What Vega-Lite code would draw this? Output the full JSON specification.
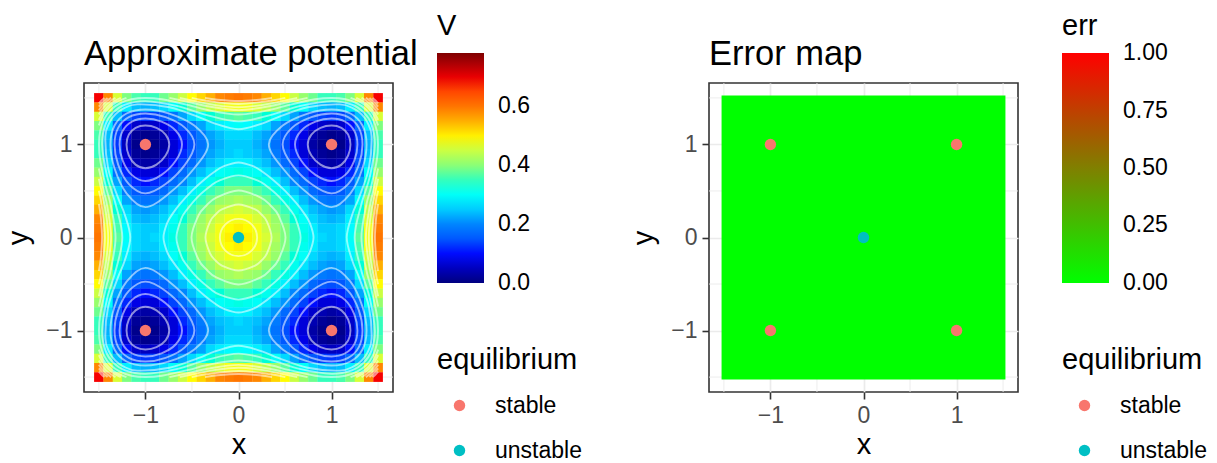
{
"$schema":"https://vega.github.io/schema/vega-lite/v6.json",
"background":"white",
"padding":{"left":3,"top":11,"right":4,"bottom":0},
"config":{
"font":"Liberation Sans",
"view":{"stroke":"#333333","strokeWidth":1.6},
"axis":{"domain":false,"grid":true,"gridColor":"#EBEBEB","gridWidth":1.7,"tickColor":"#333333","tickWidth":1.6,"tickSize":7,"labelColor":"#4D4D4D","labelFontSize":23,"labelPadding":5,"titleFontSize":29,"titleFontWeight":"normal","titleColor":"#000000"},
"axisX":{"titlePadding":3},
"axisY":{"titlePadding":12},
"legend":{"titleFontSize":29,"titleFontWeight":"normal","titleColor":"#000000","labelFontSize":23,"labelColor":"#000000","gradientLength":230,"gradientThickness":47,"gradientStrokeWidth":0,"offset":44,"layout":{"right":{"anchor":"middle","direction":"vertical","margin":51}}},
"title":{"fontSize":34.5,"fontWeight":"normal","anchor":"start","frame":"group","color":"#000000","offset":-60}
},
"datasets":{
"minor":[{"x":-1.5,"y":-1.5},{"x":-0.5,"y":-0.5},{"x":0.5,"y":0.5},{"x":1.5,"y":1.5}],
"eq":[{"x":-1,"y":1,"equilibrium":"stable"},{"x":1,"y":1,"equilibrium":"stable"},{"x":-1,"y":-1,"equilibrium":"stable"},{"x":1,"y":-1,"equilibrium":"stable"},{"x":0,"y":0,"equilibrium":"unstable"}],
"err":[{"x1":-1.525,"x2":1.525,"y1":-1.525,"y2":1.525,"err":0}],
"heat":[
{"x":-1.5,"y":1.5,"V":0.69},{"x":-1.4,"y":1.5,"V":0.58},{"x":-1.3,"y":1.5,"V":0.46},{"x":-1.2,"y":1.5,"V":0.39},{"x":-1.1,"y":1.5,"V":0.36},{"x":-1,"y":1.5,"V":0.35},{"x":-0.9,"y":1.5,"V":0.35},{"x":-0.8,"y":1.5,"V":0.38},{"x":-0.7,"y":1.5,"V":0.41},{"x":-0.6,"y":1.5,"V":0.45},{"x":-0.5,"y":1.5,"V":0.49},{"x":-0.4,"y":1.5,"V":0.52},{"x":-0.3,"y":1.5,"V":0.55},{"x":-0.2,"y":1.5,"V":0.58},{"x":-0.1,"y":1.5,"V":0.59},{"x":0,"y":1.5,"V":0.6},{"x":0.1,"y":1.5,"V":0.59},{"x":0.2,"y":1.5,"V":0.58},{"x":0.3,"y":1.5,"V":0.55},{"x":0.4,"y":1.5,"V":0.52},{"x":0.5,"y":1.5,"V":0.49},{"x":0.6,"y":1.5,"V":0.45},{"x":0.7,"y":1.5,"V":0.41},{"x":0.8,"y":1.5,"V":0.38},{"x":0.9,"y":1.5,"V":0.35},{"x":1,"y":1.5,"V":0.35},{"x":1.1,"y":1.5,"V":0.36},{"x":1.2,"y":1.5,"V":0.39},{"x":1.3,"y":1.5,"V":0.46},{"x":1.4,"y":1.5,"V":0.58},{"x":1.5,"y":1.5,"V":0.69},
{"x":-1.5,"y":1.4,"V":0.58},{"x":-1.4,"y":1.4,"V":0.46},{"x":-1.3,"y":1.4,"V":0.35},{"x":-1.2,"y":1.4,"V":0.28},{"x":-1.1,"y":1.4,"V":0.24},{"x":-1,"y":1.4,"V":0.23},{"x":-0.9,"y":1.4,"V":0.24},{"x":-0.8,"y":1.4,"V":0.26},{"x":-0.7,"y":1.4,"V":0.3},{"x":-0.6,"y":1.4,"V":0.33},{"x":-0.5,"y":1.4,"V":0.37},{"x":-0.4,"y":1.4,"V":0.41},{"x":-0.3,"y":1.4,"V":0.44},{"x":-0.2,"y":1.4,"V":0.46},{"x":-0.1,"y":1.4,"V":0.48},{"x":0,"y":1.4,"V":0.48},{"x":0.1,"y":1.4,"V":0.48},{"x":0.2,"y":1.4,"V":0.46},{"x":0.3,"y":1.4,"V":0.44},{"x":0.4,"y":1.4,"V":0.41},{"x":0.5,"y":1.4,"V":0.37},{"x":0.6,"y":1.4,"V":0.33},{"x":0.7,"y":1.4,"V":0.3},{"x":0.8,"y":1.4,"V":0.26},{"x":0.9,"y":1.4,"V":0.24},{"x":1,"y":1.4,"V":0.23},{"x":1.1,"y":1.4,"V":0.24},{"x":1.2,"y":1.4,"V":0.28},{"x":1.3,"y":1.4,"V":0.35},{"x":1.4,"y":1.4,"V":0.46},{"x":1.5,"y":1.4,"V":0.58},
{"x":-1.5,"y":1.3,"V":0.46},{"x":-1.4,"y":1.3,"V":0.35},{"x":-1.3,"y":1.3,"V":0.24},{"x":-1.2,"y":1.3,"V":0.17},{"x":-1.1,"y":1.3,"V":0.13},{"x":-1,"y":1.3,"V":0.12},{"x":-0.9,"y":1.3,"V":0.13},{"x":-0.8,"y":1.3,"V":0.15},{"x":-0.7,"y":1.3,"V":0.18},{"x":-0.6,"y":1.3,"V":0.22},{"x":-0.5,"y":1.3,"V":0.26},{"x":-0.4,"y":1.3,"V":0.3},{"x":-0.3,"y":1.3,"V":0.33},{"x":-0.2,"y":1.3,"V":0.35},{"x":-0.1,"y":1.3,"V":0.36},{"x":0,"y":1.3,"V":0.37},{"x":0.1,"y":1.3,"V":0.36},{"x":0.2,"y":1.3,"V":0.35},{"x":0.3,"y":1.3,"V":0.33},{"x":0.4,"y":1.3,"V":0.3},{"x":0.5,"y":1.3,"V":0.26},{"x":0.6,"y":1.3,"V":0.22},{"x":0.7,"y":1.3,"V":0.18},{"x":0.8,"y":1.3,"V":0.15},{"x":0.9,"y":1.3,"V":0.13},{"x":1,"y":1.3,"V":0.12},{"x":1.1,"y":1.3,"V":0.13},{"x":1.2,"y":1.3,"V":0.17},{"x":1.3,"y":1.3,"V":0.24},{"x":1.4,"y":1.3,"V":0.35},{"x":1.5,"y":1.3,"V":0.46},
{"x":-1.5,"y":1.2,"V":0.39},{"x":-1.4,"y":1.2,"V":0.28},{"x":-1.3,"y":1.2,"V":0.17},{"x":-1.2,"y":1.2,"V":0.1},{"x":-1.1,"y":1.2,"V":0.06},{"x":-1,"y":1.2,"V":0.05},{"x":-0.9,"y":1.2,"V":0.06},{"x":-0.8,"y":1.2,"V":0.08},{"x":-0.7,"y":1.2,"V":0.11},{"x":-0.6,"y":1.2,"V":0.15},{"x":-0.5,"y":1.2,"V":0.19},{"x":-0.4,"y":1.2,"V":0.22},{"x":-0.3,"y":1.2,"V":0.26},{"x":-0.2,"y":1.2,"V":0.28},{"x":-0.1,"y":1.2,"V":0.29},{"x":0,"y":1.2,"V":0.3},{"x":0.1,"y":1.2,"V":0.29},{"x":0.2,"y":1.2,"V":0.28},{"x":0.3,"y":1.2,"V":0.26},{"x":0.4,"y":1.2,"V":0.22},{"x":0.5,"y":1.2,"V":0.19},{"x":0.6,"y":1.2,"V":0.15},{"x":0.7,"y":1.2,"V":0.11},{"x":0.8,"y":1.2,"V":0.08},{"x":0.9,"y":1.2,"V":0.06},{"x":1,"y":1.2,"V":0.05},{"x":1.1,"y":1.2,"V":0.06},{"x":1.2,"y":1.2,"V":0.1},{"x":1.3,"y":1.2,"V":0.17},{"x":1.4,"y":1.2,"V":0.28},{"x":1.5,"y":1.2,"V":0.39},
{"x":-1.5,"y":1.1,"V":0.36},{"x":-1.4,"y":1.1,"V":0.24},{"x":-1.3,"y":1.1,"V":0.13},{"x":-1.2,"y":1.1,"V":0.06},{"x":-1.1,"y":1.1,"V":0.02},{"x":-1,"y":1.1,"V":0.01},{"x":-0.9,"y":1.1,"V":0.02},{"x":-0.8,"y":1.1,"V":0.04},{"x":-0.7,"y":1.1,"V":0.08},{"x":-0.6,"y":1.1,"V":0.11},{"x":-0.5,"y":1.1,"V":0.15},{"x":-0.4,"y":1.1,"V":0.19},{"x":-0.3,"y":1.1,"V":0.22},{"x":-0.2,"y":1.1,"V":0.24},{"x":-0.1,"y":1.1,"V":0.26},{"x":0,"y":1.1,"V":0.26},{"x":0.1,"y":1.1,"V":0.26},{"x":0.2,"y":1.1,"V":0.24},{"x":0.3,"y":1.1,"V":0.22},{"x":0.4,"y":1.1,"V":0.19},{"x":0.5,"y":1.1,"V":0.15},{"x":0.6,"y":1.1,"V":0.11},{"x":0.7,"y":1.1,"V":0.08},{"x":0.8,"y":1.1,"V":0.04},{"x":0.9,"y":1.1,"V":0.02},{"x":1,"y":1.1,"V":0.01},{"x":1.1,"y":1.1,"V":0.02},{"x":1.2,"y":1.1,"V":0.06},{"x":1.3,"y":1.1,"V":0.13},{"x":1.4,"y":1.1,"V":0.24},{"x":1.5,"y":1.1,"V":0.36},
{"x":-1.5,"y":1,"V":0.35},{"x":-1.4,"y":1,"V":0.23},{"x":-1.3,"y":1,"V":0.12},{"x":-1.2,"y":1,"V":0.05},{"x":-1.1,"y":1,"V":0.01},{"x":-1,"y":1,"V":0},{"x":-0.9,"y":1,"V":0.01},{"x":-0.8,"y":1,"V":0.03},{"x":-0.7,"y":1,"V":0.07},{"x":-0.6,"y":1,"V":0.1},{"x":-0.5,"y":1,"V":0.14},{"x":-0.4,"y":1,"V":0.18},{"x":-0.3,"y":1,"V":0.21},{"x":-0.2,"y":1,"V":0.23},{"x":-0.1,"y":1,"V":0.25},{"x":0,"y":1,"V":0.25},{"x":0.1,"y":1,"V":0.25},{"x":0.2,"y":1,"V":0.23},{"x":0.3,"y":1,"V":0.21},{"x":0.4,"y":1,"V":0.18},{"x":0.5,"y":1,"V":0.14},{"x":0.6,"y":1,"V":0.1},{"x":0.7,"y":1,"V":0.07},{"x":0.8,"y":1,"V":0.03},{"x":0.9,"y":1,"V":0.01},{"x":1,"y":1,"V":0},{"x":1.1,"y":1,"V":0.01},{"x":1.2,"y":1,"V":0.05},{"x":1.3,"y":1,"V":0.12},{"x":1.4,"y":1,"V":0.23},{"x":1.5,"y":1,"V":0.35},
{"x":-1.5,"y":0.9,"V":0.35},{"x":-1.4,"y":0.9,"V":0.24},{"x":-1.3,"y":0.9,"V":0.13},{"x":-1.2,"y":0.9,"V":0.06},{"x":-1.1,"y":0.9,"V":0.02},{"x":-1,"y":0.9,"V":0.01},{"x":-0.9,"y":0.9,"V":0.02},{"x":-0.8,"y":0.9,"V":0.04},{"x":-0.7,"y":0.9,"V":0.07},{"x":-0.6,"y":0.9,"V":0.11},{"x":-0.5,"y":0.9,"V":0.15},{"x":-0.4,"y":0.9,"V":0.19},{"x":-0.3,"y":0.9,"V":0.22},{"x":-0.2,"y":0.9,"V":0.24},{"x":-0.1,"y":0.9,"V":0.25},{"x":0,"y":0.9,"V":0.26},{"x":0.1,"y":0.9,"V":0.25},{"x":0.2,"y":0.9,"V":0.24},{"x":0.3,"y":0.9,"V":0.22},{"x":0.4,"y":0.9,"V":0.19},{"x":0.5,"y":0.9,"V":0.15},{"x":0.6,"y":0.9,"V":0.11},{"x":0.7,"y":0.9,"V":0.07},{"x":0.8,"y":0.9,"V":0.04},{"x":0.9,"y":0.9,"V":0.02},{"x":1,"y":0.9,"V":0.01},{"x":1.1,"y":0.9,"V":0.02},{"x":1.2,"y":0.9,"V":0.06},{"x":1.3,"y":0.9,"V":0.13},{"x":1.4,"y":0.9,"V":0.24},{"x":1.5,"y":0.9,"V":0.35},
{"x":-1.5,"y":0.8,"V":0.38},{"x":-1.4,"y":0.8,"V":0.26},{"x":-1.3,"y":0.8,"V":0.15},{"x":-1.2,"y":0.8,"V":0.08},{"x":-1.1,"y":0.8,"V":0.04},{"x":-1,"y":0.8,"V":0.03},{"x":-0.9,"y":0.8,"V":0.04},{"x":-0.8,"y":0.8,"V":0.06},{"x":-0.7,"y":0.8,"V":0.1},{"x":-0.6,"y":0.8,"V":0.13},{"x":-0.5,"y":0.8,"V":0.17},{"x":-0.4,"y":0.8,"V":0.21},{"x":-0.3,"y":0.8,"V":0.24},{"x":-0.2,"y":0.8,"V":0.26},{"x":-0.1,"y":0.8,"V":0.28},{"x":0,"y":0.8,"V":0.28},{"x":0.1,"y":0.8,"V":0.28},{"x":0.2,"y":0.8,"V":0.26},{"x":0.3,"y":0.8,"V":0.24},{"x":0.4,"y":0.8,"V":0.21},{"x":0.5,"y":0.8,"V":0.17},{"x":0.6,"y":0.8,"V":0.13},{"x":0.7,"y":0.8,"V":0.1},{"x":0.8,"y":0.8,"V":0.06},{"x":0.9,"y":0.8,"V":0.04},{"x":1,"y":0.8,"V":0.03},{"x":1.1,"y":0.8,"V":0.04},{"x":1.2,"y":0.8,"V":0.08},{"x":1.3,"y":0.8,"V":0.15},{"x":1.4,"y":0.8,"V":0.26},{"x":1.5,"y":0.8,"V":0.38},
{"x":-1.5,"y":0.7,"V":0.41},{"x":-1.4,"y":0.7,"V":0.3},{"x":-1.3,"y":0.7,"V":0.18},{"x":-1.2,"y":0.7,"V":0.11},{"x":-1.1,"y":0.7,"V":0.08},{"x":-1,"y":0.7,"V":0.07},{"x":-0.9,"y":0.7,"V":0.07},{"x":-0.8,"y":0.7,"V":0.1},{"x":-0.7,"y":0.7,"V":0.13},{"x":-0.6,"y":0.7,"V":0.17},{"x":-0.5,"y":0.7,"V":0.21},{"x":-0.4,"y":0.7,"V":0.24},{"x":-0.3,"y":0.7,"V":0.27},{"x":-0.2,"y":0.7,"V":0.3},{"x":-0.1,"y":0.7,"V":0.31},{"x":0,"y":0.7,"V":0.32},{"x":0.1,"y":0.7,"V":0.31},{"x":0.2,"y":0.7,"V":0.3},{"x":0.3,"y":0.7,"V":0.27},{"x":0.4,"y":0.7,"V":0.24},{"x":0.5,"y":0.7,"V":0.21},{"x":0.6,"y":0.7,"V":0.17},{"x":0.7,"y":0.7,"V":0.13},{"x":0.8,"y":0.7,"V":0.1},{"x":0.9,"y":0.7,"V":0.07},{"x":1,"y":0.7,"V":0.07},{"x":1.1,"y":0.7,"V":0.08},{"x":1.2,"y":0.7,"V":0.11},{"x":1.3,"y":0.7,"V":0.18},{"x":1.4,"y":0.7,"V":0.3},{"x":1.5,"y":0.7,"V":0.41},
{"x":-1.5,"y":0.6,"V":0.45},{"x":-1.4,"y":0.6,"V":0.33},{"x":-1.3,"y":0.6,"V":0.22},{"x":-1.2,"y":0.6,"V":0.15},{"x":-1.1,"y":0.6,"V":0.11},{"x":-1,"y":0.6,"V":0.1},{"x":-0.9,"y":0.6,"V":0.11},{"x":-0.8,"y":0.6,"V":0.13},{"x":-0.7,"y":0.6,"V":0.17},{"x":-0.6,"y":0.6,"V":0.2},{"x":-0.5,"y":0.6,"V":0.24},{"x":-0.4,"y":0.6,"V":0.28},{"x":-0.3,"y":0.6,"V":0.31},{"x":-0.2,"y":0.6,"V":0.33},{"x":-0.1,"y":0.6,"V":0.35},{"x":0,"y":0.6,"V":0.35},{"x":0.1,"y":0.6,"V":0.35},{"x":0.2,"y":0.6,"V":0.33},{"x":0.3,"y":0.6,"V":0.31},{"x":0.4,"y":0.6,"V":0.28},{"x":0.5,"y":0.6,"V":0.24},{"x":0.6,"y":0.6,"V":0.2},{"x":0.7,"y":0.6,"V":0.17},{"x":0.8,"y":0.6,"V":0.13},{"x":0.9,"y":0.6,"V":0.11},{"x":1,"y":0.6,"V":0.1},{"x":1.1,"y":0.6,"V":0.11},{"x":1.2,"y":0.6,"V":0.15},{"x":1.3,"y":0.6,"V":0.22},{"x":1.4,"y":0.6,"V":0.33},{"x":1.5,"y":0.6,"V":0.45},
{"x":-1.5,"y":0.5,"V":0.49},{"x":-1.4,"y":0.5,"V":0.37},{"x":-1.3,"y":0.5,"V":0.26},{"x":-1.2,"y":0.5,"V":0.19},{"x":-1.1,"y":0.5,"V":0.15},{"x":-1,"y":0.5,"V":0.14},{"x":-0.9,"y":0.5,"V":0.15},{"x":-0.8,"y":0.5,"V":0.17},{"x":-0.7,"y":0.5,"V":0.21},{"x":-0.6,"y":0.5,"V":0.24},{"x":-0.5,"y":0.5,"V":0.28},{"x":-0.4,"y":0.5,"V":0.32},{"x":-0.3,"y":0.5,"V":0.35},{"x":-0.2,"y":0.5,"V":0.37},{"x":-0.1,"y":0.5,"V":0.39},{"x":0,"y":0.5,"V":0.39},{"x":0.1,"y":0.5,"V":0.39},{"x":0.2,"y":0.5,"V":0.37},{"x":0.3,"y":0.5,"V":0.35},{"x":0.4,"y":0.5,"V":0.32},{"x":0.5,"y":0.5,"V":0.28},{"x":0.6,"y":0.5,"V":0.24},{"x":0.7,"y":0.5,"V":0.21},{"x":0.8,"y":0.5,"V":0.17},{"x":0.9,"y":0.5,"V":0.15},{"x":1,"y":0.5,"V":0.14},{"x":1.1,"y":0.5,"V":0.15},{"x":1.2,"y":0.5,"V":0.19},{"x":1.3,"y":0.5,"V":0.26},{"x":1.4,"y":0.5,"V":0.37},{"x":1.5,"y":0.5,"V":0.49},
{"x":-1.5,"y":0.4,"V":0.52},{"x":-1.4,"y":0.4,"V":0.41},{"x":-1.3,"y":0.4,"V":0.3},{"x":-1.2,"y":0.4,"V":0.22},{"x":-1.1,"y":0.4,"V":0.19},{"x":-1,"y":0.4,"V":0.18},{"x":-0.9,"y":0.4,"V":0.19},{"x":-0.8,"y":0.4,"V":0.21},{"x":-0.7,"y":0.4,"V":0.24},{"x":-0.6,"y":0.4,"V":0.28},{"x":-0.5,"y":0.4,"V":0.32},{"x":-0.4,"y":0.4,"V":0.35},{"x":-0.3,"y":0.4,"V":0.38},{"x":-0.2,"y":0.4,"V":0.41},{"x":-0.1,"y":0.4,"V":0.42},{"x":0,"y":0.4,"V":0.43},{"x":0.1,"y":0.4,"V":0.42},{"x":0.2,"y":0.4,"V":0.41},{"x":0.3,"y":0.4,"V":0.38},{"x":0.4,"y":0.4,"V":0.35},{"x":0.5,"y":0.4,"V":0.32},{"x":0.6,"y":0.4,"V":0.28},{"x":0.7,"y":0.4,"V":0.24},{"x":0.8,"y":0.4,"V":0.21},{"x":0.9,"y":0.4,"V":0.19},{"x":1,"y":0.4,"V":0.18},{"x":1.1,"y":0.4,"V":0.19},{"x":1.2,"y":0.4,"V":0.22},{"x":1.3,"y":0.4,"V":0.3},{"x":1.4,"y":0.4,"V":0.41},{"x":1.5,"y":0.4,"V":0.52},
{"x":-1.5,"y":0.3,"V":0.55},{"x":-1.4,"y":0.3,"V":0.44},{"x":-1.3,"y":0.3,"V":0.33},{"x":-1.2,"y":0.3,"V":0.26},{"x":-1.1,"y":0.3,"V":0.22},{"x":-1,"y":0.3,"V":0.21},{"x":-0.9,"y":0.3,"V":0.22},{"x":-0.8,"y":0.3,"V":0.24},{"x":-0.7,"y":0.3,"V":0.27},{"x":-0.6,"y":0.3,"V":0.31},{"x":-0.5,"y":0.3,"V":0.35},{"x":-0.4,"y":0.3,"V":0.38},{"x":-0.3,"y":0.3,"V":0.41},{"x":-0.2,"y":0.3,"V":0.44},{"x":-0.1,"y":0.3,"V":0.45},{"x":0,"y":0.3,"V":0.46},{"x":0.1,"y":0.3,"V":0.45},{"x":0.2,"y":0.3,"V":0.44},{"x":0.3,"y":0.3,"V":0.41},{"x":0.4,"y":0.3,"V":0.38},{"x":0.5,"y":0.3,"V":0.35},{"x":0.6,"y":0.3,"V":0.31},{"x":0.7,"y":0.3,"V":0.27},{"x":0.8,"y":0.3,"V":0.24},{"x":0.9,"y":0.3,"V":0.22},{"x":1,"y":0.3,"V":0.21},{"x":1.1,"y":0.3,"V":0.22},{"x":1.2,"y":0.3,"V":0.26},{"x":1.3,"y":0.3,"V":0.33},{"x":1.4,"y":0.3,"V":0.44},{"x":1.5,"y":0.3,"V":0.55},
{"x":-1.5,"y":0.2,"V":0.58},{"x":-1.4,"y":0.2,"V":0.46},{"x":-1.3,"y":0.2,"V":0.35},{"x":-1.2,"y":0.2,"V":0.28},{"x":-1.1,"y":0.2,"V":0.24},{"x":-1,"y":0.2,"V":0.23},{"x":-0.9,"y":0.2,"V":0.24},{"x":-0.8,"y":0.2,"V":0.26},{"x":-0.7,"y":0.2,"V":0.3},{"x":-0.6,"y":0.2,"V":0.33},{"x":-0.5,"y":0.2,"V":0.37},{"x":-0.4,"y":0.2,"V":0.41},{"x":-0.3,"y":0.2,"V":0.44},{"x":-0.2,"y":0.2,"V":0.46},{"x":-0.1,"y":0.2,"V":0.48},{"x":0,"y":0.2,"V":0.48},{"x":0.1,"y":0.2,"V":0.48},{"x":0.2,"y":0.2,"V":0.46},{"x":0.3,"y":0.2,"V":0.44},{"x":0.4,"y":0.2,"V":0.41},{"x":0.5,"y":0.2,"V":0.37},{"x":0.6,"y":0.2,"V":0.33},{"x":0.7,"y":0.2,"V":0.3},{"x":0.8,"y":0.2,"V":0.26},{"x":0.9,"y":0.2,"V":0.24},{"x":1,"y":0.2,"V":0.23},{"x":1.1,"y":0.2,"V":0.24},{"x":1.2,"y":0.2,"V":0.28},{"x":1.3,"y":0.2,"V":0.35},{"x":1.4,"y":0.2,"V":0.46},{"x":1.5,"y":0.2,"V":0.58},
{"x":-1.5,"y":0.1,"V":0.59},{"x":-1.4,"y":0.1,"V":0.48},{"x":-1.3,"y":0.1,"V":0.36},{"x":-1.2,"y":0.1,"V":0.29},{"x":-1.1,"y":0.1,"V":0.26},{"x":-1,"y":0.1,"V":0.25},{"x":-0.9,"y":0.1,"V":0.25},{"x":-0.8,"y":0.1,"V":0.28},{"x":-0.7,"y":0.1,"V":0.31},{"x":-0.6,"y":0.1,"V":0.35},{"x":-0.5,"y":0.1,"V":0.39},{"x":-0.4,"y":0.1,"V":0.42},{"x":-0.3,"y":0.1,"V":0.45},{"x":-0.2,"y":0.1,"V":0.48},{"x":-0.1,"y":0.1,"V":0.49},{"x":0,"y":0.1,"V":0.5},{"x":0.1,"y":0.1,"V":0.49},{"x":0.2,"y":0.1,"V":0.48},{"x":0.3,"y":0.1,"V":0.45},{"x":0.4,"y":0.1,"V":0.42},{"x":0.5,"y":0.1,"V":0.39},{"x":0.6,"y":0.1,"V":0.35},{"x":0.7,"y":0.1,"V":0.31},{"x":0.8,"y":0.1,"V":0.28},{"x":0.9,"y":0.1,"V":0.25},{"x":1,"y":0.1,"V":0.25},{"x":1.1,"y":0.1,"V":0.26},{"x":1.2,"y":0.1,"V":0.29},{"x":1.3,"y":0.1,"V":0.36},{"x":1.4,"y":0.1,"V":0.48},{"x":1.5,"y":0.1,"V":0.59},
{"x":-1.5,"y":0,"V":0.6},{"x":-1.4,"y":0,"V":0.48},{"x":-1.3,"y":0,"V":0.37},{"x":-1.2,"y":0,"V":0.3},{"x":-1.1,"y":0,"V":0.26},{"x":-1,"y":0,"V":0.25},{"x":-0.9,"y":0,"V":0.26},{"x":-0.8,"y":0,"V":0.28},{"x":-0.7,"y":0,"V":0.32},{"x":-0.6,"y":0,"V":0.35},{"x":-0.5,"y":0,"V":0.39},{"x":-0.4,"y":0,"V":0.43},{"x":-0.3,"y":0,"V":0.46},{"x":-0.2,"y":0,"V":0.48},{"x":-0.1,"y":0,"V":0.5},{"x":0,"y":0,"V":0.5},{"x":0.1,"y":0,"V":0.5},{"x":0.2,"y":0,"V":0.48},{"x":0.3,"y":0,"V":0.46},{"x":0.4,"y":0,"V":0.43},{"x":0.5,"y":0,"V":0.39},{"x":0.6,"y":0,"V":0.35},{"x":0.7,"y":0,"V":0.32},{"x":0.8,"y":0,"V":0.28},{"x":0.9,"y":0,"V":0.26},{"x":1,"y":0,"V":0.25},{"x":1.1,"y":0,"V":0.26},{"x":1.2,"y":0,"V":0.3},{"x":1.3,"y":0,"V":0.37},{"x":1.4,"y":0,"V":0.48},{"x":1.5,"y":0,"V":0.6},
{"x":-1.5,"y":-0.1,"V":0.59},{"x":-1.4,"y":-0.1,"V":0.48},{"x":-1.3,"y":-0.1,"V":0.36},{"x":-1.2,"y":-0.1,"V":0.29},{"x":-1.1,"y":-0.1,"V":0.26},{"x":-1,"y":-0.1,"V":0.25},{"x":-0.9,"y":-0.1,"V":0.25},{"x":-0.8,"y":-0.1,"V":0.28},{"x":-0.7,"y":-0.1,"V":0.31},{"x":-0.6,"y":-0.1,"V":0.35},{"x":-0.5,"y":-0.1,"V":0.39},{"x":-0.4,"y":-0.1,"V":0.42},{"x":-0.3,"y":-0.1,"V":0.45},{"x":-0.2,"y":-0.1,"V":0.48},{"x":-0.1,"y":-0.1,"V":0.49},{"x":0,"y":-0.1,"V":0.5},{"x":0.1,"y":-0.1,"V":0.49},{"x":0.2,"y":-0.1,"V":0.48},{"x":0.3,"y":-0.1,"V":0.45},{"x":0.4,"y":-0.1,"V":0.42},{"x":0.5,"y":-0.1,"V":0.39},{"x":0.6,"y":-0.1,"V":0.35},{"x":0.7,"y":-0.1,"V":0.31},{"x":0.8,"y":-0.1,"V":0.28},{"x":0.9,"y":-0.1,"V":0.25},{"x":1,"y":-0.1,"V":0.25},{"x":1.1,"y":-0.1,"V":0.26},{"x":1.2,"y":-0.1,"V":0.29},{"x":1.3,"y":-0.1,"V":0.36},{"x":1.4,"y":-0.1,"V":0.48},{"x":1.5,"y":-0.1,"V":0.59},
{"x":-1.5,"y":-0.2,"V":0.58},{"x":-1.4,"y":-0.2,"V":0.46},{"x":-1.3,"y":-0.2,"V":0.35},{"x":-1.2,"y":-0.2,"V":0.28},{"x":-1.1,"y":-0.2,"V":0.24},{"x":-1,"y":-0.2,"V":0.23},{"x":-0.9,"y":-0.2,"V":0.24},{"x":-0.8,"y":-0.2,"V":0.26},{"x":-0.7,"y":-0.2,"V":0.3},{"x":-0.6,"y":-0.2,"V":0.33},{"x":-0.5,"y":-0.2,"V":0.37},{"x":-0.4,"y":-0.2,"V":0.41},{"x":-0.3,"y":-0.2,"V":0.44},{"x":-0.2,"y":-0.2,"V":0.46},{"x":-0.1,"y":-0.2,"V":0.48},{"x":0,"y":-0.2,"V":0.48},{"x":0.1,"y":-0.2,"V":0.48},{"x":0.2,"y":-0.2,"V":0.46},{"x":0.3,"y":-0.2,"V":0.44},{"x":0.4,"y":-0.2,"V":0.41},{"x":0.5,"y":-0.2,"V":0.37},{"x":0.6,"y":-0.2,"V":0.33},{"x":0.7,"y":-0.2,"V":0.3},{"x":0.8,"y":-0.2,"V":0.26},{"x":0.9,"y":-0.2,"V":0.24},{"x":1,"y":-0.2,"V":0.23},{"x":1.1,"y":-0.2,"V":0.24},{"x":1.2,"y":-0.2,"V":0.28},{"x":1.3,"y":-0.2,"V":0.35},{"x":1.4,"y":-0.2,"V":0.46},{"x":1.5,"y":-0.2,"V":0.58},
{"x":-1.5,"y":-0.3,"V":0.55},{"x":-1.4,"y":-0.3,"V":0.44},{"x":-1.3,"y":-0.3,"V":0.33},{"x":-1.2,"y":-0.3,"V":0.26},{"x":-1.1,"y":-0.3,"V":0.22},{"x":-1,"y":-0.3,"V":0.21},{"x":-0.9,"y":-0.3,"V":0.22},{"x":-0.8,"y":-0.3,"V":0.24},{"x":-0.7,"y":-0.3,"V":0.27},{"x":-0.6,"y":-0.3,"V":0.31},{"x":-0.5,"y":-0.3,"V":0.35},{"x":-0.4,"y":-0.3,"V":0.38},{"x":-0.3,"y":-0.3,"V":0.41},{"x":-0.2,"y":-0.3,"V":0.44},{"x":-0.1,"y":-0.3,"V":0.45},{"x":0,"y":-0.3,"V":0.46},{"x":0.1,"y":-0.3,"V":0.45},{"x":0.2,"y":-0.3,"V":0.44},{"x":0.3,"y":-0.3,"V":0.41},{"x":0.4,"y":-0.3,"V":0.38},{"x":0.5,"y":-0.3,"V":0.35},{"x":0.6,"y":-0.3,"V":0.31},{"x":0.7,"y":-0.3,"V":0.27},{"x":0.8,"y":-0.3,"V":0.24},{"x":0.9,"y":-0.3,"V":0.22},{"x":1,"y":-0.3,"V":0.21},{"x":1.1,"y":-0.3,"V":0.22},{"x":1.2,"y":-0.3,"V":0.26},{"x":1.3,"y":-0.3,"V":0.33},{"x":1.4,"y":-0.3,"V":0.44},{"x":1.5,"y":-0.3,"V":0.55},
{"x":-1.5,"y":-0.4,"V":0.52},{"x":-1.4,"y":-0.4,"V":0.41},{"x":-1.3,"y":-0.4,"V":0.3},{"x":-1.2,"y":-0.4,"V":0.22},{"x":-1.1,"y":-0.4,"V":0.19},{"x":-1,"y":-0.4,"V":0.18},{"x":-0.9,"y":-0.4,"V":0.19},{"x":-0.8,"y":-0.4,"V":0.21},{"x":-0.7,"y":-0.4,"V":0.24},{"x":-0.6,"y":-0.4,"V":0.28},{"x":-0.5,"y":-0.4,"V":0.32},{"x":-0.4,"y":-0.4,"V":0.35},{"x":-0.3,"y":-0.4,"V":0.38},{"x":-0.2,"y":-0.4,"V":0.41},{"x":-0.1,"y":-0.4,"V":0.42},{"x":0,"y":-0.4,"V":0.43},{"x":0.1,"y":-0.4,"V":0.42},{"x":0.2,"y":-0.4,"V":0.41},{"x":0.3,"y":-0.4,"V":0.38},{"x":0.4,"y":-0.4,"V":0.35},{"x":0.5,"y":-0.4,"V":0.32},{"x":0.6,"y":-0.4,"V":0.28},{"x":0.7,"y":-0.4,"V":0.24},{"x":0.8,"y":-0.4,"V":0.21},{"x":0.9,"y":-0.4,"V":0.19},{"x":1,"y":-0.4,"V":0.18},{"x":1.1,"y":-0.4,"V":0.19},{"x":1.2,"y":-0.4,"V":0.22},{"x":1.3,"y":-0.4,"V":0.3},{"x":1.4,"y":-0.4,"V":0.41},{"x":1.5,"y":-0.4,"V":0.52},
{"x":-1.5,"y":-0.5,"V":0.49},{"x":-1.4,"y":-0.5,"V":0.37},{"x":-1.3,"y":-0.5,"V":0.26},{"x":-1.2,"y":-0.5,"V":0.19},{"x":-1.1,"y":-0.5,"V":0.15},{"x":-1,"y":-0.5,"V":0.14},{"x":-0.9,"y":-0.5,"V":0.15},{"x":-0.8,"y":-0.5,"V":0.17},{"x":-0.7,"y":-0.5,"V":0.21},{"x":-0.6,"y":-0.5,"V":0.24},{"x":-0.5,"y":-0.5,"V":0.28},{"x":-0.4,"y":-0.5,"V":0.32},{"x":-0.3,"y":-0.5,"V":0.35},{"x":-0.2,"y":-0.5,"V":0.37},{"x":-0.1,"y":-0.5,"V":0.39},{"x":0,"y":-0.5,"V":0.39},{"x":0.1,"y":-0.5,"V":0.39},{"x":0.2,"y":-0.5,"V":0.37},{"x":0.3,"y":-0.5,"V":0.35},{"x":0.4,"y":-0.5,"V":0.32},{"x":0.5,"y":-0.5,"V":0.28},{"x":0.6,"y":-0.5,"V":0.24},{"x":0.7,"y":-0.5,"V":0.21},{"x":0.8,"y":-0.5,"V":0.17},{"x":0.9,"y":-0.5,"V":0.15},{"x":1,"y":-0.5,"V":0.14},{"x":1.1,"y":-0.5,"V":0.15},{"x":1.2,"y":-0.5,"V":0.19},{"x":1.3,"y":-0.5,"V":0.26},{"x":1.4,"y":-0.5,"V":0.37},{"x":1.5,"y":-0.5,"V":0.49},
{"x":-1.5,"y":-0.6,"V":0.45},{"x":-1.4,"y":-0.6,"V":0.33},{"x":-1.3,"y":-0.6,"V":0.22},{"x":-1.2,"y":-0.6,"V":0.15},{"x":-1.1,"y":-0.6,"V":0.11},{"x":-1,"y":-0.6,"V":0.1},{"x":-0.9,"y":-0.6,"V":0.11},{"x":-0.8,"y":-0.6,"V":0.13},{"x":-0.7,"y":-0.6,"V":0.17},{"x":-0.6,"y":-0.6,"V":0.2},{"x":-0.5,"y":-0.6,"V":0.24},{"x":-0.4,"y":-0.6,"V":0.28},{"x":-0.3,"y":-0.6,"V":0.31},{"x":-0.2,"y":-0.6,"V":0.33},{"x":-0.1,"y":-0.6,"V":0.35},{"x":0,"y":-0.6,"V":0.35},{"x":0.1,"y":-0.6,"V":0.35},{"x":0.2,"y":-0.6,"V":0.33},{"x":0.3,"y":-0.6,"V":0.31},{"x":0.4,"y":-0.6,"V":0.28},{"x":0.5,"y":-0.6,"V":0.24},{"x":0.6,"y":-0.6,"V":0.2},{"x":0.7,"y":-0.6,"V":0.17},{"x":0.8,"y":-0.6,"V":0.13},{"x":0.9,"y":-0.6,"V":0.11},{"x":1,"y":-0.6,"V":0.1},{"x":1.1,"y":-0.6,"V":0.11},{"x":1.2,"y":-0.6,"V":0.15},{"x":1.3,"y":-0.6,"V":0.22},{"x":1.4,"y":-0.6,"V":0.33},{"x":1.5,"y":-0.6,"V":0.45},
{"x":-1.5,"y":-0.7,"V":0.41},{"x":-1.4,"y":-0.7,"V":0.3},{"x":-1.3,"y":-0.7,"V":0.18},{"x":-1.2,"y":-0.7,"V":0.11},{"x":-1.1,"y":-0.7,"V":0.08},{"x":-1,"y":-0.7,"V":0.07},{"x":-0.9,"y":-0.7,"V":0.07},{"x":-0.8,"y":-0.7,"V":0.1},{"x":-0.7,"y":-0.7,"V":0.13},{"x":-0.6,"y":-0.7,"V":0.17},{"x":-0.5,"y":-0.7,"V":0.21},{"x":-0.4,"y":-0.7,"V":0.24},{"x":-0.3,"y":-0.7,"V":0.27},{"x":-0.2,"y":-0.7,"V":0.3},{"x":-0.1,"y":-0.7,"V":0.31},{"x":0,"y":-0.7,"V":0.32},{"x":0.1,"y":-0.7,"V":0.31},{"x":0.2,"y":-0.7,"V":0.3},{"x":0.3,"y":-0.7,"V":0.27},{"x":0.4,"y":-0.7,"V":0.24},{"x":0.5,"y":-0.7,"V":0.21},{"x":0.6,"y":-0.7,"V":0.17},{"x":0.7,"y":-0.7,"V":0.13},{"x":0.8,"y":-0.7,"V":0.1},{"x":0.9,"y":-0.7,"V":0.07},{"x":1,"y":-0.7,"V":0.07},{"x":1.1,"y":-0.7,"V":0.08},{"x":1.2,"y":-0.7,"V":0.11},{"x":1.3,"y":-0.7,"V":0.18},{"x":1.4,"y":-0.7,"V":0.3},{"x":1.5,"y":-0.7,"V":0.41},
{"x":-1.5,"y":-0.8,"V":0.38},{"x":-1.4,"y":-0.8,"V":0.26},{"x":-1.3,"y":-0.8,"V":0.15},{"x":-1.2,"y":-0.8,"V":0.08},{"x":-1.1,"y":-0.8,"V":0.04},{"x":-1,"y":-0.8,"V":0.03},{"x":-0.9,"y":-0.8,"V":0.04},{"x":-0.8,"y":-0.8,"V":0.06},{"x":-0.7,"y":-0.8,"V":0.1},{"x":-0.6,"y":-0.8,"V":0.13},{"x":-0.5,"y":-0.8,"V":0.17},{"x":-0.4,"y":-0.8,"V":0.21},{"x":-0.3,"y":-0.8,"V":0.24},{"x":-0.2,"y":-0.8,"V":0.26},{"x":-0.1,"y":-0.8,"V":0.28},{"x":0,"y":-0.8,"V":0.28},{"x":0.1,"y":-0.8,"V":0.28},{"x":0.2,"y":-0.8,"V":0.26},{"x":0.3,"y":-0.8,"V":0.24},{"x":0.4,"y":-0.8,"V":0.21},{"x":0.5,"y":-0.8,"V":0.17},{"x":0.6,"y":-0.8,"V":0.13},{"x":0.7,"y":-0.8,"V":0.1},{"x":0.8,"y":-0.8,"V":0.06},{"x":0.9,"y":-0.8,"V":0.04},{"x":1,"y":-0.8,"V":0.03},{"x":1.1,"y":-0.8,"V":0.04},{"x":1.2,"y":-0.8,"V":0.08},{"x":1.3,"y":-0.8,"V":0.15},{"x":1.4,"y":-0.8,"V":0.26},{"x":1.5,"y":-0.8,"V":0.38},
{"x":-1.5,"y":-0.9,"V":0.35},{"x":-1.4,"y":-0.9,"V":0.24},{"x":-1.3,"y":-0.9,"V":0.13},{"x":-1.2,"y":-0.9,"V":0.06},{"x":-1.1,"y":-0.9,"V":0.02},{"x":-1,"y":-0.9,"V":0.01},{"x":-0.9,"y":-0.9,"V":0.02},{"x":-0.8,"y":-0.9,"V":0.04},{"x":-0.7,"y":-0.9,"V":0.07},{"x":-0.6,"y":-0.9,"V":0.11},{"x":-0.5,"y":-0.9,"V":0.15},{"x":-0.4,"y":-0.9,"V":0.19},{"x":-0.3,"y":-0.9,"V":0.22},{"x":-0.2,"y":-0.9,"V":0.24},{"x":-0.1,"y":-0.9,"V":0.25},{"x":0,"y":-0.9,"V":0.26},{"x":0.1,"y":-0.9,"V":0.25},{"x":0.2,"y":-0.9,"V":0.24},{"x":0.3,"y":-0.9,"V":0.22},{"x":0.4,"y":-0.9,"V":0.19},{"x":0.5,"y":-0.9,"V":0.15},{"x":0.6,"y":-0.9,"V":0.11},{"x":0.7,"y":-0.9,"V":0.07},{"x":0.8,"y":-0.9,"V":0.04},{"x":0.9,"y":-0.9,"V":0.02},{"x":1,"y":-0.9,"V":0.01},{"x":1.1,"y":-0.9,"V":0.02},{"x":1.2,"y":-0.9,"V":0.06},{"x":1.3,"y":-0.9,"V":0.13},{"x":1.4,"y":-0.9,"V":0.24},{"x":1.5,"y":-0.9,"V":0.35},
{"x":-1.5,"y":-1,"V":0.35},{"x":-1.4,"y":-1,"V":0.23},{"x":-1.3,"y":-1,"V":0.12},{"x":-1.2,"y":-1,"V":0.05},{"x":-1.1,"y":-1,"V":0.01},{"x":-1,"y":-1,"V":0},{"x":-0.9,"y":-1,"V":0.01},{"x":-0.8,"y":-1,"V":0.03},{"x":-0.7,"y":-1,"V":0.07},{"x":-0.6,"y":-1,"V":0.1},{"x":-0.5,"y":-1,"V":0.14},{"x":-0.4,"y":-1,"V":0.18},{"x":-0.3,"y":-1,"V":0.21},{"x":-0.2,"y":-1,"V":0.23},{"x":-0.1,"y":-1,"V":0.25},{"x":0,"y":-1,"V":0.25},{"x":0.1,"y":-1,"V":0.25},{"x":0.2,"y":-1,"V":0.23},{"x":0.3,"y":-1,"V":0.21},{"x":0.4,"y":-1,"V":0.18},{"x":0.5,"y":-1,"V":0.14},{"x":0.6,"y":-1,"V":0.1},{"x":0.7,"y":-1,"V":0.07},{"x":0.8,"y":-1,"V":0.03},{"x":0.9,"y":-1,"V":0.01},{"x":1,"y":-1,"V":0},{"x":1.1,"y":-1,"V":0.01},{"x":1.2,"y":-1,"V":0.05},{"x":1.3,"y":-1,"V":0.12},{"x":1.4,"y":-1,"V":0.23},{"x":1.5,"y":-1,"V":0.35},
{"x":-1.5,"y":-1.1,"V":0.36},{"x":-1.4,"y":-1.1,"V":0.24},{"x":-1.3,"y":-1.1,"V":0.13},{"x":-1.2,"y":-1.1,"V":0.06},{"x":-1.1,"y":-1.1,"V":0.02},{"x":-1,"y":-1.1,"V":0.01},{"x":-0.9,"y":-1.1,"V":0.02},{"x":-0.8,"y":-1.1,"V":0.04},{"x":-0.7,"y":-1.1,"V":0.08},{"x":-0.6,"y":-1.1,"V":0.11},{"x":-0.5,"y":-1.1,"V":0.15},{"x":-0.4,"y":-1.1,"V":0.19},{"x":-0.3,"y":-1.1,"V":0.22},{"x":-0.2,"y":-1.1,"V":0.24},{"x":-0.1,"y":-1.1,"V":0.26},{"x":0,"y":-1.1,"V":0.26},{"x":0.1,"y":-1.1,"V":0.26},{"x":0.2,"y":-1.1,"V":0.24},{"x":0.3,"y":-1.1,"V":0.22},{"x":0.4,"y":-1.1,"V":0.19},{"x":0.5,"y":-1.1,"V":0.15},{"x":0.6,"y":-1.1,"V":0.11},{"x":0.7,"y":-1.1,"V":0.08},{"x":0.8,"y":-1.1,"V":0.04},{"x":0.9,"y":-1.1,"V":0.02},{"x":1,"y":-1.1,"V":0.01},{"x":1.1,"y":-1.1,"V":0.02},{"x":1.2,"y":-1.1,"V":0.06},{"x":1.3,"y":-1.1,"V":0.13},{"x":1.4,"y":-1.1,"V":0.24},{"x":1.5,"y":-1.1,"V":0.36},
{"x":-1.5,"y":-1.2,"V":0.39},{"x":-1.4,"y":-1.2,"V":0.28},{"x":-1.3,"y":-1.2,"V":0.17},{"x":-1.2,"y":-1.2,"V":0.1},{"x":-1.1,"y":-1.2,"V":0.06},{"x":-1,"y":-1.2,"V":0.05},{"x":-0.9,"y":-1.2,"V":0.06},{"x":-0.8,"y":-1.2,"V":0.08},{"x":-0.7,"y":-1.2,"V":0.11},{"x":-0.6,"y":-1.2,"V":0.15},{"x":-0.5,"y":-1.2,"V":0.19},{"x":-0.4,"y":-1.2,"V":0.22},{"x":-0.3,"y":-1.2,"V":0.26},{"x":-0.2,"y":-1.2,"V":0.28},{"x":-0.1,"y":-1.2,"V":0.29},{"x":0,"y":-1.2,"V":0.3},{"x":0.1,"y":-1.2,"V":0.29},{"x":0.2,"y":-1.2,"V":0.28},{"x":0.3,"y":-1.2,"V":0.26},{"x":0.4,"y":-1.2,"V":0.22},{"x":0.5,"y":-1.2,"V":0.19},{"x":0.6,"y":-1.2,"V":0.15},{"x":0.7,"y":-1.2,"V":0.11},{"x":0.8,"y":-1.2,"V":0.08},{"x":0.9,"y":-1.2,"V":0.06},{"x":1,"y":-1.2,"V":0.05},{"x":1.1,"y":-1.2,"V":0.06},{"x":1.2,"y":-1.2,"V":0.1},{"x":1.3,"y":-1.2,"V":0.17},{"x":1.4,"y":-1.2,"V":0.28},{"x":1.5,"y":-1.2,"V":0.39},
{"x":-1.5,"y":-1.3,"V":0.46},{"x":-1.4,"y":-1.3,"V":0.35},{"x":-1.3,"y":-1.3,"V":0.24},{"x":-1.2,"y":-1.3,"V":0.17},{"x":-1.1,"y":-1.3,"V":0.13},{"x":-1,"y":-1.3,"V":0.12},{"x":-0.9,"y":-1.3,"V":0.13},{"x":-0.8,"y":-1.3,"V":0.15},{"x":-0.7,"y":-1.3,"V":0.18},{"x":-0.6,"y":-1.3,"V":0.22},{"x":-0.5,"y":-1.3,"V":0.26},{"x":-0.4,"y":-1.3,"V":0.3},{"x":-0.3,"y":-1.3,"V":0.33},{"x":-0.2,"y":-1.3,"V":0.35},{"x":-0.1,"y":-1.3,"V":0.36},{"x":0,"y":-1.3,"V":0.37},{"x":0.1,"y":-1.3,"V":0.36},{"x":0.2,"y":-1.3,"V":0.35},{"x":0.3,"y":-1.3,"V":0.33},{"x":0.4,"y":-1.3,"V":0.3},{"x":0.5,"y":-1.3,"V":0.26},{"x":0.6,"y":-1.3,"V":0.22},{"x":0.7,"y":-1.3,"V":0.18},{"x":0.8,"y":-1.3,"V":0.15},{"x":0.9,"y":-1.3,"V":0.13},{"x":1,"y":-1.3,"V":0.12},{"x":1.1,"y":-1.3,"V":0.13},{"x":1.2,"y":-1.3,"V":0.17},{"x":1.3,"y":-1.3,"V":0.24},{"x":1.4,"y":-1.3,"V":0.35},{"x":1.5,"y":-1.3,"V":0.46},
{"x":-1.5,"y":-1.4,"V":0.58},{"x":-1.4,"y":-1.4,"V":0.46},{"x":-1.3,"y":-1.4,"V":0.35},{"x":-1.2,"y":-1.4,"V":0.28},{"x":-1.1,"y":-1.4,"V":0.24},{"x":-1,"y":-1.4,"V":0.23},{"x":-0.9,"y":-1.4,"V":0.24},{"x":-0.8,"y":-1.4,"V":0.26},{"x":-0.7,"y":-1.4,"V":0.3},{"x":-0.6,"y":-1.4,"V":0.33},{"x":-0.5,"y":-1.4,"V":0.37},{"x":-0.4,"y":-1.4,"V":0.41},{"x":-0.3,"y":-1.4,"V":0.44},{"x":-0.2,"y":-1.4,"V":0.46},{"x":-0.1,"y":-1.4,"V":0.48},{"x":0,"y":-1.4,"V":0.48},{"x":0.1,"y":-1.4,"V":0.48},{"x":0.2,"y":-1.4,"V":0.46},{"x":0.3,"y":-1.4,"V":0.44},{"x":0.4,"y":-1.4,"V":0.41},{"x":0.5,"y":-1.4,"V":0.37},{"x":0.6,"y":-1.4,"V":0.33},{"x":0.7,"y":-1.4,"V":0.3},{"x":0.8,"y":-1.4,"V":0.26},{"x":0.9,"y":-1.4,"V":0.24},{"x":1,"y":-1.4,"V":0.23},{"x":1.1,"y":-1.4,"V":0.24},{"x":1.2,"y":-1.4,"V":0.28},{"x":1.3,"y":-1.4,"V":0.35},{"x":1.4,"y":-1.4,"V":0.46},{"x":1.5,"y":-1.4,"V":0.58},
{"x":-1.5,"y":-1.5,"V":0.69},{"x":-1.4,"y":-1.5,"V":0.58},{"x":-1.3,"y":-1.5,"V":0.46},{"x":-1.2,"y":-1.5,"V":0.39},{"x":-1.1,"y":-1.5,"V":0.36},{"x":-1,"y":-1.5,"V":0.35},{"x":-0.9,"y":-1.5,"V":0.35},{"x":-0.8,"y":-1.5,"V":0.38},{"x":-0.7,"y":-1.5,"V":0.41},{"x":-0.6,"y":-1.5,"V":0.45},{"x":-0.5,"y":-1.5,"V":0.49},{"x":-0.4,"y":-1.5,"V":0.52},{"x":-0.3,"y":-1.5,"V":0.55},{"x":-0.2,"y":-1.5,"V":0.58},{"x":-0.1,"y":-1.5,"V":0.59},{"x":0,"y":-1.5,"V":0.6},{"x":0.1,"y":-1.5,"V":0.59},{"x":0.2,"y":-1.5,"V":0.58},{"x":0.3,"y":-1.5,"V":0.55},{"x":0.4,"y":-1.5,"V":0.52},{"x":0.5,"y":-1.5,"V":0.49},{"x":0.6,"y":-1.5,"V":0.45},{"x":0.7,"y":-1.5,"V":0.41},{"x":0.8,"y":-1.5,"V":0.38},{"x":0.9,"y":-1.5,"V":0.35},{"x":1,"y":-1.5,"V":0.35},{"x":1.1,"y":-1.5,"V":0.36},{"x":1.2,"y":-1.5,"V":0.39},{"x":1.3,"y":-1.5,"V":0.46},{"x":1.4,"y":-1.5,"V":0.58},{"x":1.5,"y":-1.5,"V":0.69}
],
"cc":[
{"c":"a1","x":1.203,"y":1},{"c":"a1","x":1.178,"y":1.106},{"c":"a1","x":1.106,"y":1.178},{"c":"a1","x":1,"y":1.203},{"c":"a1","x":0.881,"y":1.178},{"c":"a1","x":0.783,"y":1.106},{"c":"a1","x":0.744,"y":1},{"c":"a1","x":0.783,"y":0.881},{"c":"a1","x":0.881,"y":0.783},{"c":"a1","x":1,"y":0.744},{"c":"a1","x":1.106,"y":0.783},{"c":"a1","x":1.178,"y":0.881},
{"c":"a2","x":-1.203,"y":1},{"c":"a2","x":-1.178,"y":1.106},{"c":"a2","x":-1.106,"y":1.178},{"c":"a2","x":-1,"y":1.203},{"c":"a2","x":-0.881,"y":1.178},{"c":"a2","x":-0.783,"y":1.106},{"c":"a2","x":-0.744,"y":1},{"c":"a2","x":-0.783,"y":0.881},{"c":"a2","x":-0.881,"y":0.783},{"c":"a2","x":-1,"y":0.744},{"c":"a2","x":-1.106,"y":0.783},{"c":"a2","x":-1.178,"y":0.881},
{"c":"a3","x":-1.203,"y":-1},{"c":"a3","x":-1.178,"y":-1.106},{"c":"a3","x":-1.106,"y":-1.178},{"c":"a3","x":-1,"y":-1.203},{"c":"a3","x":-0.881,"y":-1.178},{"c":"a3","x":-0.783,"y":-1.106},{"c":"a3","x":-0.744,"y":-1},{"c":"a3","x":-0.783,"y":-0.881},{"c":"a3","x":-0.881,"y":-0.783},{"c":"a3","x":-1,"y":-0.744},{"c":"a3","x":-1.106,"y":-0.783},{"c":"a3","x":-1.178,"y":-0.881},
{"c":"a4","x":1.203,"y":-1},{"c":"a4","x":1.178,"y":-1.106},{"c":"a4","x":1.106,"y":-1.178},{"c":"a4","x":1,"y":-1.203},{"c":"a4","x":0.881,"y":-1.178},{"c":"a4","x":0.783,"y":-1.106},{"c":"a4","x":0.744,"y":-1},{"c":"a4","x":0.783,"y":-0.881},{"c":"a4","x":0.881,"y":-0.783},{"c":"a4","x":1,"y":-0.744},{"c":"a4","x":1.106,"y":-0.783},{"c":"a4","x":1.178,"y":-0.881},
{"c":"b1","x":1.278,"y":1},{"c":"b1","x":1.244,"y":1.147},{"c":"b1","x":1.147,"y":1.244},{"c":"b1","x":1,"y":1.278},{"c":"b1","x":0.827,"y":1.244},{"c":"b1","x":0.673,"y":1.147},{"c":"b1","x":0.607,"y":1},{"c":"b1","x":0.673,"y":0.827},{"c":"b1","x":0.827,"y":0.673},{"c":"b1","x":1,"y":0.607},{"c":"b1","x":1.147,"y":0.673},{"c":"b1","x":1.244,"y":0.827},
{"c":"b2","x":-1.278,"y":1},{"c":"b2","x":-1.244,"y":1.147},{"c":"b2","x":-1.147,"y":1.244},{"c":"b2","x":-1,"y":1.278},{"c":"b2","x":-0.827,"y":1.244},{"c":"b2","x":-0.673,"y":1.147},{"c":"b2","x":-0.607,"y":1},{"c":"b2","x":-0.673,"y":0.827},{"c":"b2","x":-0.827,"y":0.673},{"c":"b2","x":-1,"y":0.607},{"c":"b2","x":-1.147,"y":0.673},{"c":"b2","x":-1.244,"y":0.827},
{"c":"b3","x":-1.278,"y":-1},{"c":"b3","x":-1.244,"y":-1.147},{"c":"b3","x":-1.147,"y":-1.244},{"c":"b3","x":-1,"y":-1.278},{"c":"b3","x":-0.827,"y":-1.244},{"c":"b3","x":-0.673,"y":-1.147},{"c":"b3","x":-0.607,"y":-1},{"c":"b3","x":-0.673,"y":-0.827},{"c":"b3","x":-0.827,"y":-0.673},{"c":"b3","x":-1,"y":-0.607},{"c":"b3","x":-1.147,"y":-0.673},{"c":"b3","x":-1.244,"y":-0.827},
{"c":"b4","x":1.278,"y":-1},{"c":"b4","x":1.244,"y":-1.147},{"c":"b4","x":1.147,"y":-1.244},{"c":"b4","x":1,"y":-1.278},{"c":"b4","x":0.827,"y":-1.244},{"c":"b4","x":0.673,"y":-1.147},{"c":"b4","x":0.607,"y":-1},{"c":"b4","x":0.673,"y":-0.827},{"c":"b4","x":0.827,"y":-0.673},{"c":"b4","x":1,"y":-0.607},{"c":"b4","x":1.147,"y":-0.673},{"c":"b4","x":1.244,"y":-0.827},
{"c":"c1","x":1.332,"y":1},{"c":"c1","x":1.293,"y":1.178},{"c":"c1","x":1.178,"y":1.293},{"c":"c1","x":1,"y":1.332},{"c":"c1","x":0.783,"y":1.293},{"c":"c1","x":0.574,"y":1.178},{"c":"c1","x":0.474,"y":1},{"c":"c1","x":0.574,"y":0.783},{"c":"c1","x":0.783,"y":0.574},{"c":"c1","x":1,"y":0.474},{"c":"c1","x":1.178,"y":0.574},{"c":"c1","x":1.293,"y":0.783},
{"c":"c2","x":-1.332,"y":1},{"c":"c2","x":-1.293,"y":1.178},{"c":"c2","x":-1.178,"y":1.293},{"c":"c2","x":-1,"y":1.332},{"c":"c2","x":-0.783,"y":1.293},{"c":"c2","x":-0.574,"y":1.178},{"c":"c2","x":-0.474,"y":1},{"c":"c2","x":-0.574,"y":0.783},{"c":"c2","x":-0.783,"y":0.574},{"c":"c2","x":-1,"y":0.474},{"c":"c2","x":-1.178,"y":0.574},{"c":"c2","x":-1.293,"y":0.783},
{"c":"c3","x":-1.332,"y":-1},{"c":"c3","x":-1.293,"y":-1.178},{"c":"c3","x":-1.178,"y":-1.293},{"c":"c3","x":-1,"y":-1.332},{"c":"c3","x":-0.783,"y":-1.293},{"c":"c3","x":-0.574,"y":-1.178},{"c":"c3","x":-0.474,"y":-1},{"c":"c3","x":-0.574,"y":-0.783},{"c":"c3","x":-0.783,"y":-0.574},{"c":"c3","x":-1,"y":-0.474},{"c":"c3","x":-1.178,"y":-0.574},{"c":"c3","x":-1.293,"y":-0.783},
{"c":"c4","x":1.332,"y":-1},{"c":"c4","x":1.293,"y":-1.178},{"c":"c4","x":1.178,"y":-1.293},{"c":"c4","x":1,"y":-1.332},{"c":"c4","x":0.783,"y":-1.293},{"c":"c4","x":0.574,"y":-1.178},{"c":"c4","x":0.474,"y":-1},{"c":"c4","x":0.574,"y":-0.783},{"c":"c4","x":0.783,"y":-0.574},{"c":"c4","x":1,"y":-0.474},{"c":"c4","x":1.178,"y":-0.574},{"c":"c4","x":1.293,"y":-0.783},
{"c":"d1","x":1.376,"y":1},{"c":"d1","x":1.332,"y":1.203},{"c":"d1","x":1.203,"y":1.332},{"c":"d1","x":1,"y":1.376},{"c":"d1","x":0.744,"y":1.332},{"c":"d1","x":0.475,"y":1.203},{"c":"d1","x":0.326,"y":1},{"c":"d1","x":0.475,"y":0.744},{"c":"d1","x":0.744,"y":0.475},{"c":"d1","x":1,"y":0.326},{"c":"d1","x":1.203,"y":0.475},{"c":"d1","x":1.332,"y":0.744},
{"c":"d2","x":-1.376,"y":1},{"c":"d2","x":-1.332,"y":1.203},{"c":"d2","x":-1.203,"y":1.332},{"c":"d2","x":-1,"y":1.376},{"c":"d2","x":-0.744,"y":1.332},{"c":"d2","x":-0.475,"y":1.203},{"c":"d2","x":-0.326,"y":1},{"c":"d2","x":-0.475,"y":0.744},{"c":"d2","x":-0.744,"y":0.475},{"c":"d2","x":-1,"y":0.326},{"c":"d2","x":-1.203,"y":0.475},{"c":"d2","x":-1.332,"y":0.744},
{"c":"d3","x":-1.376,"y":-1},{"c":"d3","x":-1.332,"y":-1.203},{"c":"d3","x":-1.203,"y":-1.332},{"c":"d3","x":-1,"y":-1.376},{"c":"d3","x":-0.744,"y":-1.332},{"c":"d3","x":-0.475,"y":-1.203},{"c":"d3","x":-0.326,"y":-1},{"c":"d3","x":-0.475,"y":-0.744},{"c":"d3","x":-0.744,"y":-0.475},{"c":"d3","x":-1,"y":-0.326},{"c":"d3","x":-1.203,"y":-0.475},{"c":"d3","x":-1.332,"y":-0.744},
{"c":"d4","x":1.376,"y":-1},{"c":"d4","x":1.332,"y":-1.203},{"c":"d4","x":1.203,"y":-1.332},{"c":"d4","x":1,"y":-1.376},{"c":"d4","x":0.744,"y":-1.332},{"c":"d4","x":0.475,"y":-1.203},{"c":"d4","x":0.326,"y":-1},{"c":"d4","x":0.475,"y":-0.744},{"c":"d4","x":0.744,"y":-0.475},{"c":"d4","x":1,"y":-0.326},{"c":"d4","x":1.203,"y":-0.475},{"c":"d4","x":1.332,"y":-0.744},
{"c":"r1","x":0.2,"y":0},{"c":"r1","x":0.141,"y":0.141},{"c":"r1","x":0,"y":0.2},{"c":"r1","x":-0.141,"y":0.141},{"c":"r1","x":-0.2,"y":0},{"c":"r1","x":-0.141,"y":-0.141},{"c":"r1","x":0,"y":-0.2},{"c":"r1","x":0.141,"y":-0.141},
{"c":"r2","x":0.355,"y":0},{"c":"r2","x":0.304,"y":0.174},{"c":"r2","x":0.247,"y":0.247},{"c":"r2","x":0.174,"y":0.304},{"c":"r2","x":0,"y":0.355},{"c":"r2","x":-0.174,"y":0.304},{"c":"r2","x":-0.247,"y":0.247},{"c":"r2","x":-0.304,"y":0.174},{"c":"r2","x":-0.355,"y":0},{"c":"r2","x":-0.304,"y":-0.174},{"c":"r2","x":-0.247,"y":-0.247},{"c":"r2","x":-0.174,"y":-0.304},{"c":"r2","x":0,"y":-0.355},{"c":"r2","x":0.174,"y":-0.304},{"c":"r2","x":0.247,"y":-0.247},{"c":"r2","x":0.304,"y":-0.174},
{"c":"r3","x":0.505,"y":0},{"c":"r3","x":0.429,"y":0.239},{"c":"r3","x":0.344,"y":0.344},{"c":"r3","x":0.239,"y":0.429},{"c":"r3","x":0,"y":0.505},{"c":"r3","x":-0.239,"y":0.429},{"c":"r3","x":-0.344,"y":0.344},{"c":"r3","x":-0.429,"y":0.239},{"c":"r3","x":-0.505,"y":0},{"c":"r3","x":-0.429,"y":-0.239},{"c":"r3","x":-0.344,"y":-0.344},{"c":"r3","x":-0.239,"y":-0.429},{"c":"r3","x":0,"y":-0.505},{"c":"r3","x":0.239,"y":-0.429},{"c":"r3","x":0.344,"y":-0.344},{"c":"r3","x":0.429,"y":-0.239},
{"c":"r4","x":0.667,"y":0},{"c":"r4","x":0.614,"y":0.202},{"c":"r4","x":0.558,"y":0.294},{"c":"r4","x":0.437,"y":0.437},{"c":"r4","x":0.294,"y":0.558},{"c":"r4","x":0.202,"y":0.614},{"c":"r4","x":0,"y":0.667},{"c":"r4","x":-0.202,"y":0.614},{"c":"r4","x":-0.294,"y":0.558},{"c":"r4","x":-0.437,"y":0.437},{"c":"r4","x":-0.558,"y":0.294},{"c":"r4","x":-0.614,"y":0.202},{"c":"r4","x":-0.667,"y":0},{"c":"r4","x":-0.614,"y":-0.202},{"c":"r4","x":-0.558,"y":-0.294},{"c":"r4","x":-0.437,"y":-0.437},{"c":"r4","x":-0.294,"y":-0.558},{"c":"r4","x":-0.202,"y":-0.614},{"c":"r4","x":0,"y":-0.667},{"c":"r4","x":0.202,"y":-0.614},{"c":"r4","x":0.294,"y":-0.558},{"c":"r4","x":0.437,"y":-0.437},{"c":"r4","x":0.558,"y":-0.294},{"c":"r4","x":0.614,"y":-0.202},
{"c":"r5","x":0.806,"y":0},{"c":"r5","x":0.766,"y":0.157},{"c":"r5","x":0.709,"y":0.254},{"c":"r5","x":0.626,"y":0.363},{"c":"r5","x":0.501,"y":0.501},{"c":"r5","x":0.363,"y":0.626},{"c":"r5","x":0.254,"y":0.709},{"c":"r5","x":0.157,"y":0.766},{"c":"r5","x":0,"y":0.806},{"c":"r5","x":-0.157,"y":0.766},{"c":"r5","x":-0.254,"y":0.709},{"c":"r5","x":-0.363,"y":0.626},{"c":"r5","x":-0.501,"y":0.501},{"c":"r5","x":-0.626,"y":0.363},{"c":"r5","x":-0.709,"y":0.254},{"c":"r5","x":-0.766,"y":0.157},{"c":"r5","x":-0.806,"y":0},{"c":"r5","x":-0.766,"y":-0.157},{"c":"r5","x":-0.709,"y":-0.254},{"c":"r5","x":-0.626,"y":-0.363},{"c":"r5","x":-0.501,"y":-0.501},{"c":"r5","x":-0.363,"y":-0.626},{"c":"r5","x":-0.254,"y":-0.709},{"c":"r5","x":-0.157,"y":-0.766},{"c":"r5","x":0,"y":-0.806},{"c":"r5","x":0.157,"y":-0.766},{"c":"r5","x":0.254,"y":-0.709},{"c":"r5","x":0.363,"y":-0.626},{"c":"r5","x":0.501,"y":-0.501},{"c":"r5","x":0.626,"y":-0.363},{"c":"r5","x":0.709,"y":-0.254},{"c":"r5","x":0.766,"y":-0.157},
{"c":"o1","x":1.163,"y":0},{"c":"o1","x":1.224,"y":0.253},{"c":"o1","x":1.297,"y":0.434},{"c":"o1","x":1.4,"y":0.743},{"c":"o1","x":1.43,"y":1.088},{"c":"o1","x":1.385,"y":1.237},{"c":"o1","x":1.323,"y":1.323},{"c":"o1","x":1.237,"y":1.385},{"c":"o1","x":1.088,"y":1.43},{"c":"o1","x":0.743,"y":1.4},{"c":"o1","x":0.434,"y":1.297},{"c":"o1","x":0.253,"y":1.224},{"c":"o1","x":0,"y":1.163},{"c":"o1","x":-0.253,"y":1.224},{"c":"o1","x":-0.434,"y":1.297},{"c":"o1","x":-0.743,"y":1.4},{"c":"o1","x":-1.088,"y":1.43},{"c":"o1","x":-1.237,"y":1.385},{"c":"o1","x":-1.323,"y":1.323},{"c":"o1","x":-1.385,"y":1.237},{"c":"o1","x":-1.43,"y":1.088},{"c":"o1","x":-1.4,"y":0.743},{"c":"o1","x":-1.297,"y":0.434},{"c":"o1","x":-1.224,"y":0.253},{"c":"o1","x":-1.163,"y":0},{"c":"o1","x":-1.224,"y":-0.253},{"c":"o1","x":-1.297,"y":-0.434},{"c":"o1","x":-1.4,"y":-0.743},{"c":"o1","x":-1.43,"y":-1.088},{"c":"o1","x":-1.385,"y":-1.237},{"c":"o1","x":-1.323,"y":-1.323},{"c":"o1","x":-1.237,"y":-1.385},{"c":"o1","x":-1.088,"y":-1.43},{"c":"o1","x":-0.743,"y":-1.4},{"c":"o1","x":-0.434,"y":-1.297},{"c":"o1","x":-0.253,"y":-1.224},{"c":"o1","x":0,"y":-1.163},{"c":"o1","x":0.253,"y":-1.224},{"c":"o1","x":0.434,"y":-1.297},{"c":"o1","x":0.743,"y":-1.4},{"c":"o1","x":1.088,"y":-1.43},{"c":"o1","x":1.237,"y":-1.385},{"c":"o1","x":1.323,"y":-1.323},{"c":"o1","x":1.385,"y":-1.237},{"c":"o1","x":1.43,"y":-1.088},{"c":"o1","x":1.4,"y":-0.743},{"c":"o1","x":1.297,"y":-0.434},{"c":"o1","x":1.224,"y":-0.253},
{"c":"o2","x":1.248,"y":0},{"c":"o2","x":1.318,"y":0.35},{"c":"o2","x":1.411,"y":0.654},{"c":"o2","x":1.465,"y":1},{"c":"o2","x":1.428,"y":1.218},{"c":"o2","x":1.345,"y":1.345},{"c":"o2","x":1.218,"y":1.428},{"c":"o2","x":1,"y":1.465},{"c":"o2","x":0.654,"y":1.411},{"c":"o2","x":0.35,"y":1.318},{"c":"o2","x":0,"y":1.248},{"c":"o2","x":-0.35,"y":1.318},{"c":"o2","x":-0.654,"y":1.411},{"c":"o2","x":-1,"y":1.465},{"c":"o2","x":-1.218,"y":1.428},{"c":"o2","x":-1.345,"y":1.345},{"c":"o2","x":-1.428,"y":1.218},{"c":"o2","x":-1.465,"y":1},{"c":"o2","x":-1.411,"y":0.654},{"c":"o2","x":-1.318,"y":0.35},{"c":"o2","x":-1.248,"y":0},{"c":"o2","x":-1.318,"y":-0.35},{"c":"o2","x":-1.411,"y":-0.654},{"c":"o2","x":-1.465,"y":-1},{"c":"o2","x":-1.428,"y":-1.218},{"c":"o2","x":-1.345,"y":-1.345},{"c":"o2","x":-1.218,"y":-1.428},{"c":"o2","x":-1,"y":-1.465},{"c":"o2","x":-0.654,"y":-1.411},{"c":"o2","x":-0.35,"y":-1.318},{"c":"o2","x":0,"y":-1.248},{"c":"o2","x":0.35,"y":-1.318},{"c":"o2","x":0.654,"y":-1.411},{"c":"o2","x":1,"y":-1.465},{"c":"o2","x":1.218,"y":-1.428},{"c":"o2","x":1.345,"y":-1.345},{"c":"o2","x":1.428,"y":-1.218},{"c":"o2","x":1.465,"y":-1},{"c":"o2","x":1.411,"y":-0.654},{"c":"o2","x":1.318,"y":-0.35},
{"c":"o3","x":1.321,"y":0},{"c":"o3","x":1.372,"y":0.344},{"c":"o3","x":1.422,"y":0.533},{"c":"o3","x":1.485,"y":0.823},{"c":"o3","x":1.499,"y":1},{"c":"o3","x":1.485,"y":1.15},{"c":"o3","x":1.442,"y":1.274},{"c":"o3","x":1.372,"y":1.372},{"c":"o3","x":1.274,"y":1.442},{"c":"o3","x":1.15,"y":1.485},{"c":"o3","x":1,"y":1.499},{"c":"o3","x":0.823,"y":1.485},{"c":"o3","x":0.533,"y":1.422},{"c":"o3","x":0.344,"y":1.372},{"c":"o3","x":0,"y":1.321},{"c":"o3","x":-0.344,"y":1.372},{"c":"o3","x":-0.533,"y":1.422},{"c":"o3","x":-0.823,"y":1.485},{"c":"o3","x":-1,"y":1.499},{"c":"o3","x":-1.15,"y":1.485},{"c":"o3","x":-1.274,"y":1.442},{"c":"o3","x":-1.372,"y":1.372},{"c":"o3","x":-1.442,"y":1.274},{"c":"o3","x":-1.485,"y":1.15},{"c":"o3","x":-1.499,"y":1},{"c":"o3","x":-1.485,"y":0.823},{"c":"o3","x":-1.422,"y":0.533},{"c":"o3","x":-1.372,"y":0.344},{"c":"o3","x":-1.321,"y":0},{"c":"o3","x":-1.372,"y":-0.344},{"c":"o3","x":-1.422,"y":-0.533},{"c":"o3","x":-1.485,"y":-0.823},{"c":"o3","x":-1.499,"y":-1},{"c":"o3","x":-1.485,"y":-1.15},{"c":"o3","x":-1.442,"y":-1.274},{"c":"o3","x":-1.372,"y":-1.372},{"c":"o3","x":-1.274,"y":-1.442},{"c":"o3","x":-1.15,"y":-1.485},{"c":"o3","x":-1,"y":-1.499},{"c":"o3","x":-0.823,"y":-1.485},{"c":"o3","x":-0.533,"y":-1.422},{"c":"o3","x":-0.344,"y":-1.372},{"c":"o3","x":0,"y":-1.321},{"c":"o3","x":0.344,"y":-1.372},{"c":"o3","x":0.533,"y":-1.422},{"c":"o3","x":0.823,"y":-1.485},{"c":"o3","x":1,"y":-1.499},{"c":"o3","x":1.15,"y":-1.485},{"c":"o3","x":1.274,"y":-1.442},{"c":"o3","x":1.372,"y":-1.372},{"c":"o3","x":1.442,"y":-1.274},{"c":"o3","x":1.485,"y":-1.15},{"c":"o3","x":1.499,"y":-1},{"c":"o3","x":1.485,"y":-0.823},{"c":"o3","x":1.422,"y":-0.533},{"c":"o3","x":1.372,"y":-0.344}
],
"oc":[
{"c":"4T","x":-0.742,"y":1.5},{"c":"4T","x":-0.507,"y":1.45},{"c":"4T","x":-0.334,"y":1.41},{"c":"4T","x":0,"y":1.369},{"c":"4T","x":0.334,"y":1.41},{"c":"4T","x":0.507,"y":1.45},{"c":"4T","x":0.742,"y":1.5},
{"c":"4B","x":-0.742,"y":-1.5},{"c":"4B","x":-0.507,"y":-1.45},{"c":"4B","x":-0.334,"y":-1.41},{"c":"4B","x":0,"y":-1.369},{"c":"4B","x":0.334,"y":-1.41},{"c":"4B","x":0.507,"y":-1.45},{"c":"4B","x":0.742,"y":-1.5},
{"c":"4R","x":1.5,"y":-0.742},{"c":"4R","x":1.45,"y":-0.507},{"c":"4R","x":1.41,"y":-0.334},{"c":"4R","x":1.369,"y":0},{"c":"4R","x":1.41,"y":0.334},{"c":"4R","x":1.45,"y":0.507},{"c":"4R","x":1.5,"y":0.742},
{"c":"4L","x":-1.5,"y":-0.742},{"c":"4L","x":-1.45,"y":-0.507},{"c":"4L","x":-1.41,"y":-0.334},{"c":"4L","x":-1.369,"y":0},{"c":"4L","x":-1.41,"y":0.334},{"c":"4L","x":-1.45,"y":0.507},{"c":"4L","x":-1.5,"y":0.742},
{"c":"4c1","x":1.204,"y":1.5},{"c":"4c1","x":1.313,"y":1.454},{"c":"4c1","x":1.393,"y":1.393},{"c":"4c1","x":1.454,"y":1.313},{"c":"4c1","x":1.5,"y":1.204},
{"c":"4c2","x":-1.204,"y":1.5},{"c":"4c2","x":-1.313,"y":1.454},{"c":"4c2","x":-1.393,"y":1.393},{"c":"4c2","x":-1.454,"y":1.313},{"c":"4c2","x":-1.5,"y":1.204},
{"c":"4c3","x":-1.204,"y":-1.5},{"c":"4c3","x":-1.313,"y":-1.454},{"c":"4c3","x":-1.393,"y":-1.393},{"c":"4c3","x":-1.454,"y":-1.313},{"c":"4c3","x":-1.5,"y":-1.204},
{"c":"4c4","x":1.204,"y":-1.5},{"c":"4c4","x":1.313,"y":-1.454},{"c":"4c4","x":1.393,"y":-1.393},{"c":"4c4","x":1.454,"y":-1.313},{"c":"4c4","x":1.5,"y":-1.204},
{"c":"5T","x":-0.631,"y":1.5},{"c":"5T","x":-0.43,"y":1.457},{"c":"5T","x":-0.25,"y":1.422},{"c":"5T","x":0,"y":1.4},{"c":"5T","x":0.25,"y":1.422},{"c":"5T","x":0.43,"y":1.457},{"c":"5T","x":0.631,"y":1.5},
{"c":"5B","x":-0.631,"y":-1.5},{"c":"5B","x":-0.43,"y":-1.457},{"c":"5B","x":-0.25,"y":-1.422},{"c":"5B","x":0,"y":-1.4},{"c":"5B","x":0.25,"y":-1.422},{"c":"5B","x":0.43,"y":-1.457},{"c":"5B","x":0.631,"y":-1.5},
{"c":"5R","x":1.5,"y":-0.631},{"c":"5R","x":1.457,"y":-0.43},{"c":"5R","x":1.422,"y":-0.25},{"c":"5R","x":1.4,"y":0},{"c":"5R","x":1.422,"y":0.25},{"c":"5R","x":1.457,"y":0.43},{"c":"5R","x":1.5,"y":0.631},
{"c":"5L","x":-1.5,"y":-0.631},{"c":"5L","x":-1.457,"y":-0.43},{"c":"5L","x":-1.422,"y":-0.25},{"c":"5L","x":-1.4,"y":0},{"c":"5L","x":-1.422,"y":0.25},{"c":"5L","x":-1.457,"y":0.43},{"c":"5L","x":-1.5,"y":0.631},
{"c":"5c1","x":1.265,"y":1.5},{"c":"5c1","x":1.338,"y":1.463},{"c":"5c1","x":1.407,"y":1.407},{"c":"5c1","x":1.463,"y":1.338},{"c":"5c1","x":1.5,"y":1.265},
{"c":"5c2","x":-1.265,"y":1.5},{"c":"5c2","x":-1.338,"y":1.463},{"c":"5c2","x":-1.407,"y":1.407},{"c":"5c2","x":-1.463,"y":1.338},{"c":"5c2","x":-1.5,"y":1.265},
{"c":"5c3","x":-1.265,"y":-1.5},{"c":"5c3","x":-1.338,"y":-1.463},{"c":"5c3","x":-1.407,"y":-1.407},{"c":"5c3","x":-1.463,"y":-1.338},{"c":"5c3","x":-1.5,"y":-1.265},
{"c":"5c4","x":1.265,"y":-1.5},{"c":"5c4","x":1.338,"y":-1.463},{"c":"5c4","x":1.407,"y":-1.407},{"c":"5c4","x":1.463,"y":-1.338},{"c":"5c4","x":1.5,"y":-1.265},
{"c":"6T","x":-0.503,"y":1.5},{"c":"6T","x":-0.346,"y":1.47},{"c":"6T","x":0,"y":1.435},{"c":"6T","x":0.346,"y":1.47},{"c":"6T","x":0.503,"y":1.5},
{"c":"6B","x":-0.503,"y":-1.5},{"c":"6B","x":-0.346,"y":-1.47},{"c":"6B","x":0,"y":-1.435},{"c":"6B","x":0.346,"y":-1.47},{"c":"6B","x":0.503,"y":-1.5},
{"c":"6R","x":1.5,"y":-0.503},{"c":"6R","x":1.47,"y":-0.346},{"c":"6R","x":1.435,"y":0},{"c":"6R","x":1.47,"y":0.346},{"c":"6R","x":1.5,"y":0.503},
{"c":"6L","x":-1.5,"y":-0.503},{"c":"6L","x":-1.47,"y":-0.346},{"c":"6L","x":-1.435,"y":0},{"c":"6L","x":-1.47,"y":0.346},{"c":"6L","x":-1.5,"y":0.503},
{"c":"6c1","x":1.322,"y":1.5},{"c":"6c1","x":1.371,"y":1.47},{"c":"6c1","x":1.425,"y":1.425},{"c":"6c1","x":1.47,"y":1.371},{"c":"6c1","x":1.5,"y":1.322},
{"c":"6c2","x":-1.322,"y":1.5},{"c":"6c2","x":-1.371,"y":1.47},{"c":"6c2","x":-1.425,"y":1.425},{"c":"6c2","x":-1.47,"y":1.371},{"c":"6c2","x":-1.5,"y":1.322},
{"c":"6c3","x":-1.322,"y":-1.5},{"c":"6c3","x":-1.371,"y":-1.47},{"c":"6c3","x":-1.425,"y":-1.425},{"c":"6c3","x":-1.47,"y":-1.371},{"c":"6c3","x":-1.5,"y":-1.322},
{"c":"6c4","x":1.322,"y":-1.5},{"c":"6c4","x":1.371,"y":-1.47},{"c":"6c4","x":1.425,"y":-1.425},{"c":"6c4","x":1.47,"y":-1.371},{"c":"6c4","x":1.5,"y":-1.322},
{"c":"7T","x":-0.36,"y":1.5},{"c":"7T","x":-0.224,"y":1.48},{"c":"7T","x":0,"y":1.466},{"c":"7T","x":0.224,"y":1.48},{"c":"7T","x":0.36,"y":1.5},
{"c":"7B","x":-0.36,"y":-1.5},{"c":"7B","x":-0.224,"y":-1.48},{"c":"7B","x":0,"y":-1.466},{"c":"7B","x":0.224,"y":-1.48},{"c":"7B","x":0.36,"y":-1.5},
{"c":"7R","x":1.5,"y":-0.36},{"c":"7R","x":1.48,"y":-0.224},{"c":"7R","x":1.466,"y":0},{"c":"7R","x":1.48,"y":0.224},{"c":"7R","x":1.5,"y":0.36},
{"c":"7L","x":-1.5,"y":-0.36},{"c":"7L","x":-1.48,"y":-0.224},{"c":"7L","x":-1.466,"y":0},{"c":"7L","x":-1.48,"y":0.224},{"c":"7L","x":-1.5,"y":0.36},
{"c":"7c1","x":1.368,"y":1.5},{"c":"7c1","x":1.404,"y":1.475},{"c":"7c1","x":1.441,"y":1.441},{"c":"7c1","x":1.475,"y":1.404},{"c":"7c1","x":1.5,"y":1.368},
{"c":"7c2","x":-1.368,"y":1.5},{"c":"7c2","x":-1.404,"y":1.475},{"c":"7c2","x":-1.441,"y":1.441},{"c":"7c2","x":-1.475,"y":1.404},{"c":"7c2","x":-1.5,"y":1.368},
{"c":"7c3","x":-1.368,"y":-1.5},{"c":"7c3","x":-1.404,"y":-1.475},{"c":"7c3","x":-1.441,"y":-1.441},{"c":"7c3","x":-1.475,"y":-1.404},{"c":"7c3","x":-1.5,"y":-1.368},
{"c":"7c4","x":1.368,"y":-1.5},{"c":"7c4","x":1.404,"y":-1.475},{"c":"7c4","x":1.441,"y":-1.441},{"c":"7c4","x":1.475,"y":-1.404},{"c":"7c4","x":1.5,"y":-1.368},
{"c":"8c1","x":1.407,"y":1.5},{"c":"8c1","x":1.457,"y":1.457},{"c":"8c1","x":1.5,"y":1.407},
{"c":"8c2","x":-1.407,"y":1.5},{"c":"8c2","x":-1.457,"y":1.457},{"c":"8c2","x":-1.5,"y":1.407},
{"c":"8c3","x":-1.407,"y":-1.5},{"c":"8c3","x":-1.457,"y":-1.457},{"c":"8c3","x":-1.5,"y":-1.407},
{"c":"8c4","x":1.407,"y":-1.5},{"c":"8c4","x":1.457,"y":-1.457},{"c":"8c4","x":1.5,"y":-1.407},
{"c":"9c1","x":1.441,"y":1.5},{"c":"9c1","x":1.472,"y":1.472},{"c":"9c1","x":1.5,"y":1.441},
{"c":"9c2","x":-1.441,"y":1.5},{"c":"9c2","x":-1.472,"y":1.472},{"c":"9c2","x":-1.5,"y":1.441},
{"c":"9c3","x":-1.441,"y":-1.5},{"c":"9c3","x":-1.472,"y":-1.472},{"c":"9c3","x":-1.5,"y":-1.441},
{"c":"9c4","x":1.441,"y":-1.5},{"c":"9c4","x":1.472,"y":-1.472},{"c":"9c4","x":1.5,"y":-1.441}
]
},
"spacing":45,
"resolve":{"scale":{"x":"independent","y":"independent","color":"independent","fill":"independent"},"legend":{"color":"independent","fill":"independent"}},
"hconcat":[
{"width":309,"height":309,"title":"Approximate potential","layer":[
{"data":{"name":"minor"},"mark":{"type":"rule","color":"#EBEBEB","strokeWidth":0.9},"encoding":{"x":{"field":"x","type":"quantitative","scale":{"domain":[-1.66,1.66],"nice":false,"zero":false},"axis":{"values":[-1,0,1],"title":"x"}}}},
{"data":{"name":"minor"},"mark":{"type":"rule","color":"#EBEBEB","strokeWidth":0.9},"encoding":{"y":{"field":"y","type":"quantitative","scale":{"domain":[-1.66,1.66],"nice":false,"zero":false},"axis":{"values":[-1,0,1],"title":"y"}}}},
{"data":{"name":"heat"},"mark":{"type":"rect","width":9.6,"height":9.6},"encoding":{
"x":{"field":"x","type":"quantitative","scale":{"domain":[-1.66,1.66],"nice":false,"zero":false},"axis":{"values":[-1,0,1],"title":"x"}},
"y":{"field":"y","type":"quantitative","scale":{"domain":[-1.66,1.66],"nice":false,"zero":false},"axis":{"values":[-1,0,1],"title":"y"}},
"color":{"field":"V","type":"quantitative","scale":{"domain":[-0.0005,0.0977,0.1953,0.293,0.3906,0.4883,0.5859,0.6836,0.78125],"range":["#00007F","#0000FF","#007FFF","#00FFFF","#7FFF7F","#FFFF00","#FF7F00","#FF0000","#7F0000"]},"legend":{"title":"V","values":[0,0.2,0.4,0.6],"format":".1f","labelOffset":14,"titlePadding":12}}}},
{"data":{"name":"cc"},"mark":{"type":"line","color":"white","strokeWidth":1.9,"opacity":0.55,"interpolate":"cardinal-closed"},"encoding":{
"x":{"field":"x","type":"quantitative","scale":{"domain":[-1.66,1.66],"nice":false,"zero":false},"axis":{"values":[-1,0,1],"title":"x"}},
"y":{"field":"y","type":"quantitative","scale":{"domain":[-1.66,1.66],"nice":false,"zero":false},"axis":{"values":[-1,0,1],"title":"y"}},
"detail":{"field":"c","type":"nominal"},"order":{"value":null}}},
{"data":{"name":"oc"},"mark":{"type":"line","color":"white","strokeWidth":1.9,"opacity":0.55,"interpolate":"cardinal"},"encoding":{
"x":{"field":"x","type":"quantitative","scale":{"domain":[-1.66,1.66],"nice":false,"zero":false},"axis":{"values":[-1,0,1],"title":"x"}},
"y":{"field":"y","type":"quantitative","scale":{"domain":[-1.66,1.66],"nice":false,"zero":false},"axis":{"values":[-1,0,1],"title":"y"}},
"detail":{"field":"c","type":"nominal"},"order":{"value":null}}},
{"data":{"name":"eq"},"mark":{"type":"point","filled":true,"size":130,"opacity":1,"shape":"circle"},"encoding":{
"x":{"field":"x","type":"quantitative","scale":{"domain":[-1.66,1.66],"nice":false,"zero":false},"axis":{"values":[-1,0,1],"title":"x"}},
"y":{"field":"y","type":"quantitative","scale":{"domain":[-1.66,1.66],"nice":false,"zero":false},"axis":{"values":[-1,0,1],"title":"y"}},
"fill":{"field":"equilibrium","type":"nominal","scale":{"domain":["stable","unstable"],"range":["#F8766D","#00BFC4"]},"legend":{"title":"equilibrium","symbolType":"circle","symbolSize":130,"symbolOffset":11,"labelOffset":24,"rowPadding":21,"titlePadding":19,"symbolStrokeWidth":0}}}}
]},
{"width":309,"height":309,"title":"Error map","layer":[
{"data":{"name":"minor"},"mark":{"type":"rule","color":"#EBEBEB","strokeWidth":0.9},"encoding":{"x":{"field":"x","type":"quantitative","scale":{"domain":[-1.66,1.66],"nice":false,"zero":false},"axis":{"values":[-1,0,1],"title":"x"}}}},
{"data":{"name":"minor"},"mark":{"type":"rule","color":"#EBEBEB","strokeWidth":0.9},"encoding":{"y":{"field":"y","type":"quantitative","scale":{"domain":[-1.66,1.66],"nice":false,"zero":false},"axis":{"values":[-1,0,1],"title":"y"}}}},
{"data":{"name":"err"},"mark":{"type":"rect"},"encoding":{
"x":{"field":"x1","type":"quantitative","scale":{"domain":[-1.66,1.66],"nice":false,"zero":false},"axis":{"values":[-1,0,1],"title":"x"}},
"x2":{"field":"x2"},
"y":{"field":"y1","type":"quantitative","scale":{"domain":[-1.66,1.66],"nice":false,"zero":false},"axis":{"values":[-1,0,1],"title":"y"}},
"y2":{"field":"y2"},
"color":{"field":"err","type":"quantitative","scale":{"domain":[-0.0005,1.0005],"range":["#00FF00","#FF0000"],"interpolate":"rgb"},"legend":{"title":"err","values":[0,0.25,0.5,0.75,1],"format":".2f","labelOffset":14,"titlePadding":12}}}},
{"data":{"name":"eq"},"mark":{"type":"point","filled":true,"size":130,"opacity":1,"shape":"circle"},"encoding":{
"x":{"field":"x","type":"quantitative","scale":{"domain":[-1.66,1.66],"nice":false,"zero":false},"axis":{"values":[-1,0,1],"title":"x"}},
"y":{"field":"y","type":"quantitative","scale":{"domain":[-1.66,1.66],"nice":false,"zero":false},"axis":{"values":[-1,0,1],"title":"y"}},
"fill":{"field":"equilibrium","type":"nominal","scale":{"domain":["stable","unstable"],"range":["#F8766D","#00BFC4"]},"legend":{"title":"equilibrium","symbolType":"circle","symbolSize":130,"symbolOffset":11,"labelOffset":24,"rowPadding":21,"titlePadding":19,"symbolStrokeWidth":0}}}}
]}
]
}
